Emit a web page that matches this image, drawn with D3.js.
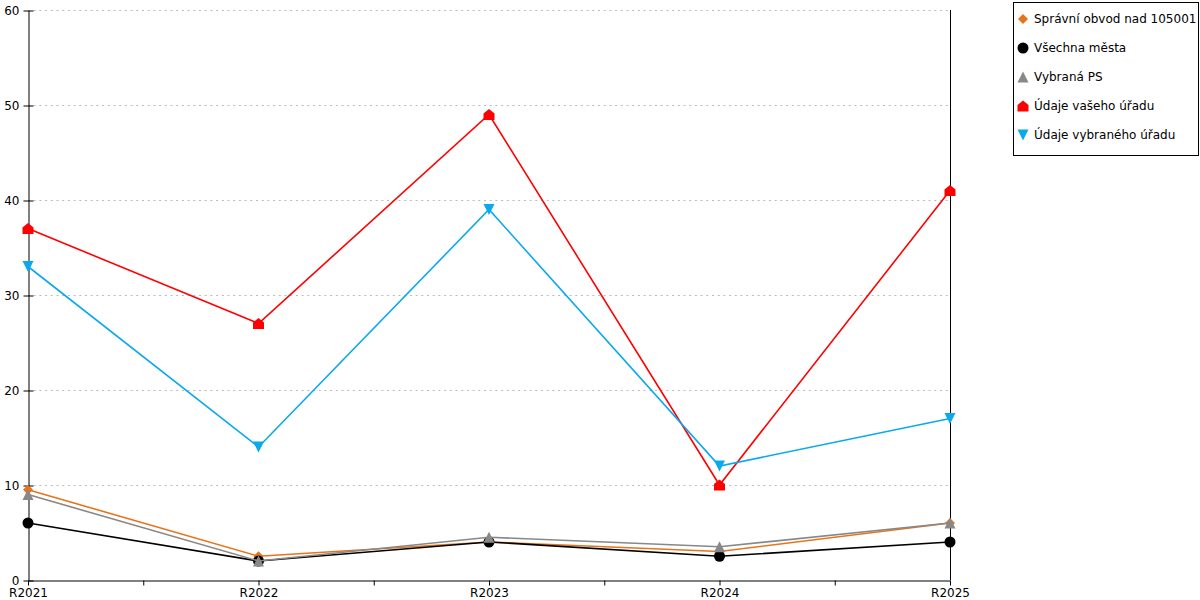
<!DOCTYPE html>
<html>
<head>
<meta charset="utf-8">
<script src="https://d3js.org/d3.v7.min.js"></script>
<style>
	body { margin: 0; background: #fff; }
	svg { font-family: "DejaVu Sans", Verdana, sans-serif; font-size: 12px; }
	.grid line { stroke: #bbb; stroke-dasharray: 2,3.7; }
</style>
</head>
<body>
<div id="chart"></div>
<script>
(function() {
	"use strict";
	var categories = ["R2021", "R2022", "R2023", "R2024", "R2025"];
	var yTicks = [0, 10, 20, 30, 40, 50, 60];
	var seriesNames = ["Správní obvod nad 105001", "Všechna města", "Vybraná PS", "Údaje vašeho úřadu", "Údaje vybraného úřadu"];
	var seriesColors = ["#e8741a", "#000000", "#888888", "#ff0000", "#0aa9ee"];
	var seriesShapes = ["diamond", "circle", "triangle", "house", "down"];
	var spravniObvod = [9.5, 2.5, 4, 3, 6];
	var vsechnaMesta = [6, 2, 4, 2.5, 4];
	var vybranaPS = [9, 2, 4.5, 3.5, 6];
	var vaseUrad = [37, 27, 49, 10, 41];
	var vybranyUrad = [33, 14, 39, 12, 17];
	var seriesValues = [spravniObvod, vsechnaMesta, vybranaPS, vaseUrad, vybranyUrad];

	var W = 1200, H = 600,
		left = 28, right = 950, top = 10, bottom = 580;

	var svg = d3.select("#chart").append("svg")
		.attr("width", W).attr("height", H);

	var x = d3.scalePoint().domain(categories).range([left, right]);
	var y = d3.scaleLinear().domain([0, 60]).range([bottom, top]);

	// grid
	svg.append("g").attr("class", "grid")
		.selectAll("line").data(yTicks.slice(1)).enter().append("line")
		.attr("x1", left).attr("x2", right)
		.attr("y1", function(d) { return y(d) + 0.5; })
		.attr("y2", function(d) { return y(d) + 0.5; });

	// right border line
	svg.append("line")
		.attr("x1", right + 0.5).attr("x2", right + 0.5)
		.attr("y1", top).attr("y2", bottom)
		.attr("stroke", "#000");

	// y axis
	var yAxis = svg.append("g")
		.attr("transform", "translate(" + (left + 0.5) + ",0.5)")
		.call(d3.axisLeft(y).tickValues(yTicks).tickSize(5).tickSizeOuter(0));
	yAxis.selectAll(".tick line").attr("x1", 5).attr("x2", -5);
	yAxis.selectAll("text").attr("x", -9).attr("fill", "#000").style("font-size", "12px").style("font-family", "DejaVu Sans, Verdana, sans-serif");
	yAxis.select(".domain").attr("stroke", "#000");

	// x axis
	var xAxis = svg.append("g")
		.attr("transform", "translate(0," + (bottom + 0.5) + ")")
		.call(d3.axisBottom(x).tickSize(5).tickSizeOuter(0));
	xAxis.selectAll("text").attr("y", 8).attr("fill", "#000").style("font-size", "12px").style("font-family", "DejaVu Sans, Verdana, sans-serif");
	var step = x.step();
	xAxis.selectAll("line.minor").data(categories.slice(1)).enter().append("line")
		.attr("class", "minor")
		.attr("x1", function(d) { return x(d) - step / 2 + 0.5; })
		.attr("x2", function(d) { return x(d) - step / 2 + 0.5; })
		.attr("y1", 0).attr("y2", 5).attr("stroke", "#000");

	function shapePath(shape, s) {
		switch (shape) {
		case "diamond": return "M0," + (-s) + "L" + s + ",0L0," + s + "L" + (-s) + ",0Z";
		case "circle": return d3.symbol().type(d3.symbolCircle).size(Math.PI * s * s)();
		case "triangle": return "M0," + (-s) + "L" + s + "," + s + "L" + (-s) + "," + s + "Z";
		case "down": return "M" + (-s) + "," + (-s) + "L" + s + "," + (-s) + "L0," + s + "Z";
		case "house": return "M0," + (-s) + "L" + s + ",-1L" + s + "," + s + "L" + (-s) + "," + s + "L" + (-s) + ",-1Z";
		}
	}
	var markerSize = [5, 5.5, 5.5, 5.5, 5.5];

	var line = d3.line()
		.x(function(d, i) { return x(categories[i]); })
		.y(function(d) { return y(d); });

	seriesValues.forEach(function(vals, s) {
		var g = svg.append("g");
		g.append("path").datum(vals)
			.attr("d", line)
			.attr("fill", "none")
			.attr("stroke", seriesColors[s])
			.attr("stroke-width", 1.6);
		g.selectAll("path.mk").data(vals).enter().append("path")
			.attr("class", "mk")
			.attr("transform", function(d, i) { return "translate(" + x(categories[i]) + "," + y(d) + ")"; })
			.attr("d", shapePath(seriesShapes[s], markerSize[s]))
			.attr("fill", seriesColors[s]);
	});

	// legend
	var lg = svg.append("g");
	lg.append("rect")
		.attr("x", 1013.5).attr("y", 2.5).attr("width", 185).attr("height", 153)
		.attr("fill", "#fff").attr("stroke", "#000");
	seriesNames.forEach(function(name, s) {
		var ly = 19 + s * 29;
		lg.append("path")
			.attr("transform", "translate(1023," + ly + ")")
			.attr("d", shapePath(seriesShapes[s], markerSize[s]))
			.attr("fill", seriesColors[s]);
		lg.append("text")
			.attr("x", 1034).attr("y", ly + 4)
			.attr("fill", "#000")
			.text(name);
	});
}());
</script>
</body>
</html>
